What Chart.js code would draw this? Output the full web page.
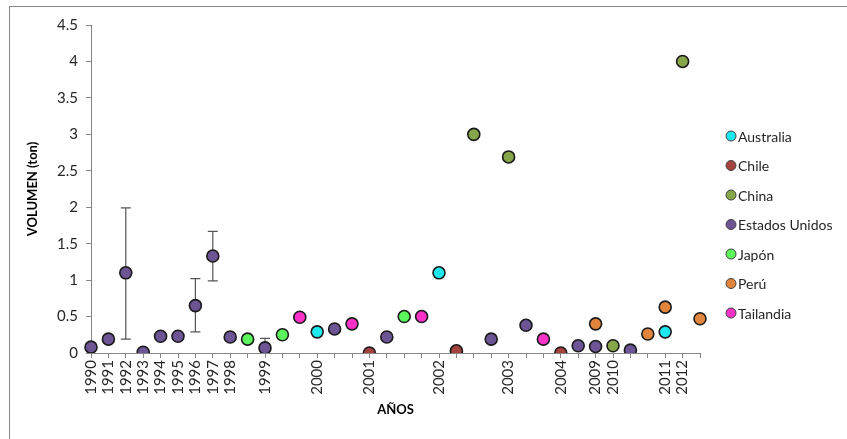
<!DOCTYPE html>
<html>
<head>
<meta charset="utf-8">
<script src="https://cdn.jsdelivr.net/npm/chart.js@4.4.0/dist/chart.umd.min.js"></script>
<style>
  body { margin: 0; background: #fff; }
  #wrap { position: relative; width: 847px; height: 439px; overflow: hidden; }
  #marco { position: absolute; left: 9px; top: 6px; width: 900px; height: 500px;
           border-left: 1px solid #8a8a8a; border-top: 1px solid #8a8a8a; pointer-events: none; }
</style>
</head>
<body>
<div id="wrap">
  <canvas id="grafico" width="847" height="439"></canvas>
  <div id="marco"></div>
</div>
<script>
// Datos del gráfico (cada posición del eje X es un registro)
const _ = null;
const categorias = ['1990','1991','1992','1993','1994','1995','1996','1997','1998','','1999','','','2000','','','2001','','','','2002','','','','2003','','','2004','','2009','2010','','','2011','2012',''];

const australia = [_,_,_,_,_,_,_,_,_,_,_,_,_,0.29,_,_,_,_,_,_,1.1,_,_,_,_,_,_,_,_,_,_,_,_,0.29,_,_];
const chile     = [_,_,_,_,_,_,_,_,_,_,_,_,_,_,_,_,0,_,_,_,_,0.03,_,_,_,_,_,0,_,_,_,_,_,_,_,_];
const china     = [_,_,_,_,_,_,_,_,_,_,_,_,_,_,_,_,_,_,_,_,_,_,3.0,_,2.69,_,_,_,_,_,0.1,_,_,_,4.0,_];
const eeuu      = [0.08,0.19,1.1,0.01,0.23,0.23,0.65,1.33,0.22,_,0.07,_,_,_,0.33,_,_,0.22,_,_,_,_,_,0.19,_,0.38,_,_,0.1,0.09,_,0.04,_,_,_,_];
const japon     = [_,_,_,_,_,_,_,_,_,0.19,_,0.25,_,_,_,_,_,_,0.5,_,_,_,_,_,_,_,_,_,_,_,_,_,_,_,_,_];
const peru      = [_,_,_,_,_,_,_,_,_,_,_,_,_,_,_,_,_,_,_,_,_,_,_,_,_,_,_,_,_,0.4,_,_,0.26,0.63,_,0.47];
const tailandia = [_,_,_,_,_,_,_,_,_,_,_,_,0.49,_,_,0.4,_,_,_,0.5,_,_,_,_,_,_,0.19,_,_,_,_,_,_,_,_,_];

// Barras de error (Estados Unidos)
const errBajo = [_,_,0.19,_,_,_,0.29,0.99,_,_,0,_,_,_,_,_,_,_,_,_,_,_,_,_,_,_,_,_,_,_,_,_,_,_,_,_];
const errAlto = [_,_,1.99,_,_,_,1.02,1.67,_,_,0.2,_,_,_,_,_,_,_,_,_,_,_,_,_,_,_,_,_,_,_,_,_,_,_,_,_];

const ticksY = [0, 0.5, 1, 1.5, 2, 2.5, 3, 3.5, 4, 4.5];

const series = [
    { nombre: 'Australia', datos: australia, color: '#1ee8ef' },
    { nombre: 'Chile', datos: chile, color: '#a4423d' },
    { nombre: 'China', datos: china, color: '#86a64a' },
    { nombre: 'Estados Unidos', datos: eeuu, color: '#6d5595' },
    { nombre: 'Japón', datos: japon, color: '#5cf75c' },
    { nombre: 'Perú', datos: peru, color: '#e0853b' },
    { nombre: 'Tailandia', datos: tailandia, color: '#fa32c8' }
];

const fuente = 'Lato, "Open Sans", sans-serif';
const gris = '#868686';

// Dibuja las barras de error detrás de los puntos
const pluginErrores = {
    id: 'errores',
    beforeDatasetsDraw(chart) {
        const ctx = chart.ctx;
        const x = chart.scales.x, y = chart.scales.y;
        ctx.save();
        ctx.strokeStyle = '#555';
        ctx.lineWidth = 1.2;
        errAlto.forEach((alto, i) => {
            if (alto === null) return;
            const px = x.getPixelForValue(i);
            const y1 = y.getPixelForValue(errBajo[i]);
            const y2 = y.getPixelForValue(alto);
            ctx.beginPath();
            ctx.moveTo(px, y1); ctx.lineTo(px, y2);
            ctx.moveTo(px - 5, y2); ctx.lineTo(px + 5, y2);
            if (errBajo[i] > 0) { ctx.moveTo(px - 5, y1); ctx.lineTo(px + 5, y1); }
            ctx.stroke();
        });
        ctx.restore();
    }
};

// Leyenda a la derecha
const pluginLeyenda = {
    id: 'leyenda',
    afterDraw(chart) {
        const ctx = chart.ctx;
        ctx.save();
        ctx.font = '14px ' + fuente;
        ctx.textBaseline = 'middle';
        chart.data.datasets.forEach((ds, i) => {
            const cy = 136 + i * 29.5;
            ctx.beginPath();
            ctx.arc(731, cy, 5, 0, Math.PI * 2);
            ctx.fillStyle = ds.backgroundColor;
            ctx.fill();
            ctx.lineWidth = 1;
            ctx.strokeStyle = '#404040';
            ctx.stroke();
            ctx.fillStyle = '#262626';
            ctx.fillText(ds.label, 738, cy + 1);
        });
        ctx.restore();
    }
};

new Chart(document.getElementById('grafico'), {
    type: 'line',
    data: {
        labels: categorias,
        datasets: series.map(s => ({
            label: s.nombre,
            data: s.datos,
            showLine: false,
            backgroundColor: s.color,
            borderColor: '#1a1a1a',
            pointBackgroundColor: s.color,
            pointBorderColor: '#1a1a1a',
            pointBorderWidth: 1.6,
            pointRadius: 6,
            pointHoverRadius: 6
        }))
    },
    options: {
        responsive: false,
        animation: false,
        layout: { padding: { left: 21, top: 25, right: 147, bottom: 17 } },
        plugins: { legend: { display: false }, tooltip: { enabled: false } },
        scales: {
            x: {
                offset: false,
                grid: { drawOnChartArea: false, color: gris, tickLength: 5 },
                border: { color: gris },
                ticks: { autoSkip: false, minRotation: 90, maxRotation: 90, padding: 2,
                         color: '#262626', font: { family: fuente, size: 15 } },
                title: { display: true, text: 'AÑOS', color: '#000',
                         font: { family: fuente, size: 13, weight: 'bold' } },
                afterFit(scale) { scale.height = 69; }
            },
            y: {
                min: 0,
                max: 4.5,
                afterBuildTicks(scale) { scale.ticks = ticksY.map(v => ({ value: v })); },
                grid: { drawOnChartArea: false, color: gris, tickLength: 5 },
                border: { color: gris },
                ticks: { padding: 8, color: '#262626', font: { family: fuente, size: 15 },
                         callback(v) { return String(v); } },
                title: { display: true, text: 'VOLUMEN (ton)', color: '#000',
                         font: { family: fuente, size: 13, weight: 'bold' } },
                afterFit(scale) { scale.width = 70; }
            }
        }
    },
    plugins: [pluginErrores, pluginLeyenda]
});
</script>
</body>
</html>
